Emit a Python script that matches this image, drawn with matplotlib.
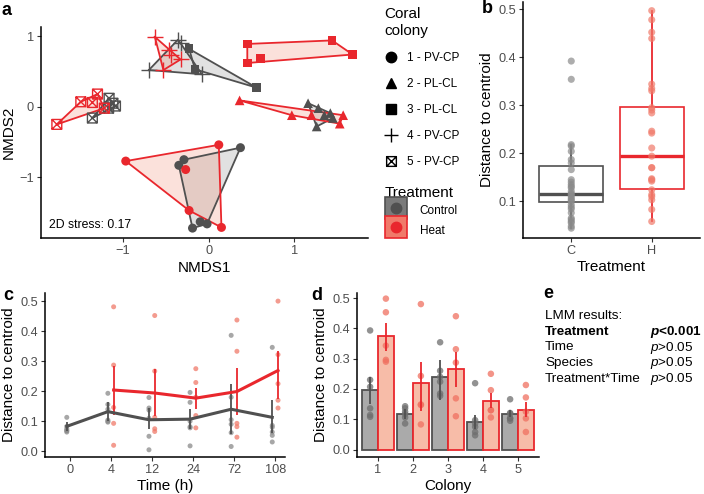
import numpy as np
import matplotlib
matplotlib.use("Agg")
import matplotlib.pyplot as plt
from matplotlib.path import Path
from matplotlib.lines import Line2D
from matplotlib.legend_handler import HandlerTuple

plt.rcParams["font.family"] = ["Liberation Sans", "DejaVu Sans"]
plt.rcParams["mathtext.fontset"] = "custom"
plt.rcParams["mathtext.rm"] = "Liberation Sans"
plt.rcParams["mathtext.it"] = "Liberation Sans:italic"
plt.rcParams["mathtext.bf"] = "Liberation Sans:italic:bold"

RED = "#E9272D"
DARK = "#505050"
HEAT_PT = "#F07A6A"
CTRL_PT = "#8A8A8A"
TITLE_FS = 11

# ---- panel a: NMDS coordinates, one list per colony (1..5)
colony_labels = ["1 - PV-CP", "2 - PL-CL", "3 - PL-CL", "4 - PV-CP", "5 - PV-CP"]
nmds_ctrl_x = [[0.37, -0.29, -0.35, -0.19, -0.10, -0.02],
               [1.16, 1.28, 1.42, 1.26, 1.45, 1.35],
               [-0.23, -0.16, 0.56],
               [-0.70, -0.36, -0.08, -0.33],
               [-1.165, -1.09, -1.36, -1.17, -1.12]]
nmds_ctrl_y = [[-0.58, -0.75, -0.83, -1.72, -1.63, -1.66],
               [0.05, -0.02, -0.09, -0.28, -0.16, -0.12],
               [0.82, 0.53, 0.27],
               [0.52, 0.95, 0.46, 0.90],
               [0.12, 0.01, -0.16, -0.02, 0.05]]
nmds_heat_x = [[-0.97, 0.117, -0.27, -0.23, 0.148],
               [0.36, 0.97, 1.57, 1.53, 1.20],
               [0.45, 0.45, 0.60, 1.44, 1.68],
               [-0.63, -0.53, -0.44, -0.33, -0.47],
               [-1.775, -1.495, -1.36, -1.30, -1.22]]
nmds_heat_y = [[-0.77, -0.54, -0.89, -1.47, -1.71],
               [0.09, -0.12, -0.12, -0.24, -0.12],
               [0.89, 0.62, 0.68, 0.94, 0.74],
               [0.99, 0.52, 0.73, 0.67, 0.80],
               [-0.25, 0.07, 0.06, 0.18, -0.02]]
stress = 0.17

# ---- panel b: distance to centroid by treatment
dist_ctrl = [0.392, 0.354, 0.218, 0.215, 0.204, 0.187, 0.180, 0.166, 0.145, 0.140,
             0.135, 0.131, 0.128, 0.121, 0.116, 0.114, 0.110, 0.106, 0.103, 0.100,
             0.093, 0.088, 0.084, 0.076, 0.065, 0.062, 0.058, 0.055, 0.048, 0.044]
dist_heat = [0.497, 0.478, 0.452, 0.439, 0.344, 0.335, 0.330, 0.295, 0.290, 0.284,
             0.246, 0.242, 0.211, 0.194, 0.170, 0.170, 0.147, 0.145, 0.142, 0.124,
             0.114, 0.110, 0.103, 0.083, 0.058]
box_q1 = [0.098, 0.126]
box_med = [0.116, 0.194]
box_q3 = [0.174, 0.297]
box_lo = [0.044, 0.058]
box_hi = [0.218, 0.497]
treat_ticks = ["C", "H"]

# ---- panel c: distance over time
times = ["0", "4", "12", "24", "72", "108"]
ctrl_t_mean = [0.083, 0.132, 0.105, 0.107, 0.140, 0.113]
ctrl_t_lo = [0.069, 0.102, 0.073, 0.075, 0.058, 0.060]
ctrl_t_hi = [0.097, 0.163, 0.144, 0.141, 0.223, 0.170]
heat_t_mean = [0.204, 0.194, 0.177, 0.199, 0.269]
heat_t_lo = [0.122, 0.119, 0.141, 0.122, 0.174]
heat_t_hi = [0.284, 0.273, 0.210, 0.276, 0.333]
ctrl_t_pts = [[0.113, 0.083, 0.075, 0.068, 0.064, 0.070],
              [0.193, 0.156, 0.104, 0.100, 0.097, 0.140],
              [0.179, 0.144, 0.137, 0.050, 0.005, 0.110],
              [0.196, 0.163, 0.082, 0.078, 0.018, 0.100],
              [0.386, 0.105, 0.090, 0.062, 0.016, 0.180],
              [0.346, 0.086, 0.064, 0.053, 0.031, 0.080]]
heat_t_pts = [[0.481, 0.287, 0.146, 0.093, 0.020],
              [0.452, 0.267, 0.113, 0.075, 0.066],
              [0.275, 0.229, 0.119, 0.078, 0.180],
              [0.437, 0.333, 0.093, 0.082, 0.047],
              [0.500, 0.322, 0.225, 0.170, 0.144]]

# ---- panel d: distance by colony
colonies = ["1", "2", "3", "4", "5"]
ctrl_c_mean = [0.196, 0.116, 0.238, 0.091, 0.119]
ctrl_c_lo = [0.152, 0.100, 0.163, 0.068, 0.108]
ctrl_c_hi = [0.238, 0.135, 0.296, 0.113, 0.132]
heat_c_mean = [0.376, 0.219, 0.266, 0.161, 0.132]
heat_c_lo = [0.326, 0.128, 0.207, 0.136, 0.108]
heat_c_hi = [0.417, 0.288, 0.323, 0.186, 0.157]
ctrl_c_pts = [[0.393, 0.230, 0.207, 0.136, 0.114, 0.108],
              [0.143, 0.136, 0.125, 0.117, 0.106, 0.086],
              [0.354, 0.185, 0.177, 0.260, 0.240, 0.224],
              [0.219, 0.097, 0.086, 0.075, 0.058, 0.047],
              [0.166, 0.121, 0.118, 0.103, 0.103, 0.095]]
heat_c_pts = [[0.498, 0.453, 0.343, 0.296, 0.290],
              [0.480, 0.243, 0.149, 0.147, 0.083],
              [0.440, 0.331, 0.287, 0.169, 0.110],
              [0.250, 0.196, 0.130, 0.130, 0.106],
              [0.213, 0.172, 0.125, 0.103, 0.058]]

# ---- panel e
lmm_terms = ["Treatment", "Time", "Species", "Treatment*Time"]
lmm_p = ["<0.001", ">0.05", ">0.05", ">0.05"]

W, H = 704, 494
fig = plt.figure(figsize=(W / 100, H / 100), dpi=100)


def px_axes(l, t, r, b):
    return fig.add_axes([l / W, 1 - b / H, (r - l) / W, (b - t) / H])


def style(ax):
    for s in ["top", "right"]:
        ax.spines[s].set_visible(False)
    for s in ["left", "bottom"]:
        ax.spines[s].set_linewidth(1.1)
    ax.tick_params(colors="#333333", labelcolor="#4D4D4D", labelsize=9.2,
                   length=3, width=0.8, pad=2)


def hull(xs, ys):
    pts = sorted(set(zip(xs, ys)))
    if len(pts) < 3:
        return pts

    def cross(o, a, b):
        return (a[0] - o[0]) * (b[1] - o[1]) - (a[1] - o[1]) * (b[0] - o[0])
    lower, upper = [], []
    for p in pts:
        while len(lower) >= 2 and cross(lower[-2], lower[-1], p) <= 0:
            lower.pop()
        lower.append(p)
    for p in reversed(pts):
        while len(upper) >= 2 and cross(upper[-2], upper[-1], p) <= 0:
            upper.pop()
        upper.append(p)
    return lower[:-1] + upper[:-1]


sq_cross = Path([(-1, -1), (1, -1), (1, 1), (-1, 1), (-1, -1),
                 (-1, -1), (1, 1), (-1, 1), (1, -1)],
                [Path.MOVETO, Path.LINETO, Path.LINETO, Path.LINETO, Path.CLOSEPOLY,
                 Path.MOVETO, Path.LINETO, Path.MOVETO, Path.LINETO])
markers = ["o", "^", "s", "+", sq_cross]
msizes = [42, 48, 40, 130, 50]

# ---------------- panel a
ax = px_axes(41, 27, 368, 238)
style(ax)
for xs_all, ys_all, col, fc, al in [(nmds_ctrl_x, nmds_ctrl_y, DARK, DARK, 0.17),
                                     (nmds_heat_x, nmds_heat_y, RED, "#F08A70", 0.25)]:
    for i in range(5):
        h = hull(xs_all[i], ys_all[i])
        hx = [p[0] for p in h]
        hy = [p[1] for p in h]
        ax.fill(hx, hy, facecolor=fc, alpha=al, edgecolor="none", zorder=1)
        ax.plot(hx + hx[:1], hy + hy[:1], color=col, lw=1.3, zorder=2)
for xs_all, ys_all, col in [(nmds_ctrl_x, nmds_ctrl_y, DARK), (nmds_heat_x, nmds_heat_y, RED)]:
    for i in range(5):
        if i == 3:
            ax.scatter(xs_all[i], ys_all[i], marker="+", s=msizes[i],
                       color=col, linewidths=1.0, zorder=3)
        elif i == 4:
            ax.scatter(xs_all[i], ys_all[i], marker=markers[i], s=msizes[i],
                       facecolors="none", edgecolors=col, linewidths=1.0, zorder=3)
        else:
            ax.scatter(xs_all[i], ys_all[i], marker=markers[i], s=msizes[i],
                       color=col, edgecolors="none", zorder=3)
ax.set_xlim(-1.96, 1.86)
ax.set_ylim(-1.86, 1.13)
ax.set_xticks([-1, 0, 1])
ax.set_xticklabels(["\u22121", "0", "1"])
ax.set_yticks([-1, 0, 1])
ax.set_yticklabels(["\u22121", "0", "1"])
ax.set_xlabel("NMDS1", fontsize=TITLE_FS, labelpad=3)
ax.set_ylabel("NMDS2", fontsize=TITLE_FS, labelpad=3)
ax.text(0.025, 0.06, "2D stress: %.2f" % stress, transform=ax.transAxes,
        fontsize=8.8, va="center", ha="left")

# legends for panel a
shape_handles = []
for i in range(5):
    if i >= 3:
        shape_handles.append(Line2D([], [], marker=markers[i], color="black",
                                    markerfacecolor="none", linestyle="none",
                                    markersize=10 if i == 3 else 7, markeredgewidth=1.0))
    else:
        shape_handles.append(Line2D([], [], marker=markers[i], color="black",
                                    linestyle="none", markersize=7.5))
leg1 = fig.legend(shape_handles, colony_labels, title="Coral\ncolony",
                  loc="upper left", bbox_to_anchor=(382 / W, 1 - 5 / H), frameon=False,
                  fontsize=8.5, title_fontsize=TITLE_FS, alignment="left",
                  handlelength=1.2, handletextpad=0.7, labelspacing=1.2,
                  borderaxespad=0, borderpad=0.2)
treat_handles = [(Line2D([], [], marker="s", markersize=16, markerfacecolor="#7A7A7A",
                         markeredgecolor=DARK, markeredgewidth=1.2, linestyle="none"),
                  Line2D([], [], marker="o", color=DARK, linestyle="none", markersize=7.5)),
                 (Line2D([], [], marker="s", markersize=16, markerfacecolor=HEAT_PT,
                         markeredgecolor=RED, markeredgewidth=1.2, linestyle="none"),
                  Line2D([], [], marker="o", color=RED, linestyle="none", markersize=7.5))]
leg2 = fig.legend(treat_handles, ["Control", "Heat"], title="Treatment",
                  loc="upper left", bbox_to_anchor=(382 / W, 1 - 184 / H), frameon=False,
                  fontsize=8.5, title_fontsize=TITLE_FS, alignment="left",
                  handlelength=1.9, handleheight=1.95, handletextpad=1.1, labelspacing=0.12,
                  borderaxespad=0, borderpad=0.2,
                  handler_map={tuple: HandlerTuple(ndivide=1)})

# ---------------- panel b
ax = px_axes(523, 2, 700, 238)
style(ax)
for i, (vals, col, pc) in enumerate([(dist_ctrl, DARK, CTRL_PT), (dist_heat, RED, HEAT_PT)]):
    stats = [{"med": box_med[i], "q1": box_q1[i], "q3": box_q3[i],
              "whislo": box_lo[i], "whishi": box_hi[i], "fliers": []}]
    ax.bxp(stats, positions=[i + 1], widths=0.8, showfliers=False, showcaps=False,
           patch_artist=True,
           boxprops=dict(facecolor="white", edgecolor=col, linewidth=1.2),
           whiskerprops=dict(color=col, linewidth=1.3),
           medianprops=dict(color=col, linewidth=2.4))
    ax.scatter([i + 1] * len(vals), vals, s=26, color=pc, alpha=0.7,
               edgecolors="none", zorder=4)
ax.set_xlim(0.4, 2.6)
ax.set_ylim(0.0236, 0.515)
ax.set_xticks([1, 2])
ax.set_xticklabels(treat_ticks)
ax.set_yticks([0.1, 0.2, 0.3, 0.4, 0.5])
ax.set_yticklabels(["0.1", "0.2", "0.3", "0.4", "0.5"])
ax.set_xlabel("Treatment", fontsize=TITLE_FS, labelpad=2)
ax.set_ylabel("Distance to centroid", fontsize=TITLE_FS, labelpad=3)

# ---------------- panel c
ax = px_axes(45, 293, 285, 457)
style(ax)
xi = np.arange(len(times))
dodge = 0.07
for k in range(len(times)):
    ax.scatter([xi[k] - dodge] * len(ctrl_t_pts[k]), ctrl_t_pts[k], s=13,
               color=CTRL_PT, alpha=0.75, edgecolors="none", zorder=2)
for k in range(len(heat_t_mean)):
    ax.scatter([xi[k + 1] + dodge] * len(heat_t_pts[k]), heat_t_pts[k], s=13,
               color=HEAT_PT, alpha=0.75, edgecolors="none", zorder=2)
ax.vlines(xi - dodge, ctrl_t_lo, ctrl_t_hi, color=DARK, lw=1.3, zorder=3)
ax.vlines(xi[1:] + dodge, heat_t_lo, heat_t_hi, color=RED, lw=1.3, zorder=3)
ax.plot(xi - dodge, ctrl_t_mean, color=DARK, lw=2.2, zorder=4)
ax.plot(xi[1:] + dodge, heat_t_mean, color=RED, lw=2.2, zorder=4)
ax.set_xlim(-0.6, 5.24)
ax.set_ylim(-0.019, 0.527)
ax.set_xticks(xi)
ax.set_xticklabels(times)
ax.set_yticks([0, 0.1, 0.2, 0.3, 0.4, 0.5])
ax.set_yticklabels(["0.0", "0.1", "0.2", "0.3", "0.4", "0.5"])
ax.set_xlabel("Time (h)", fontsize=TITLE_FS, labelpad=2)
ax.set_ylabel("Distance to centroid", fontsize=TITLE_FS, labelpad=3)

# ---------------- panel d
ax = px_axes(357, 293, 539, 457)
style(ax)
xc = np.arange(1, len(colonies) + 1)
bw = 0.45
ax.bar(xc - bw / 2, ctrl_c_mean, width=bw, color="#AAAAAA", edgecolor=DARK, lw=1.3, zorder=1)
ax.bar(xc + bw / 2, heat_c_mean, width=bw, color="#F7BCA8", edgecolor=RED, lw=1.3, zorder=1)
for k in range(len(colonies)):
    ax.scatter([xc[k] - bw / 2] * len(ctrl_c_pts[k]), ctrl_c_pts[k], s=22,
               color="#6E6E6E", alpha=0.75, edgecolors="none", zorder=2)
    ax.scatter([xc[k] + bw / 2] * len(heat_c_pts[k]), heat_c_pts[k], s=22,
               color="#F07060", alpha=0.75, edgecolors="none", zorder=2)
ax.vlines(xc - bw / 2, ctrl_c_lo, ctrl_c_hi, color=DARK, lw=1.3, zorder=3)
ax.vlines(xc + bw / 2, heat_c_lo, heat_c_hi, color=RED, lw=1.3, zorder=3)
ax.set_xlim(0.4, 5.6)
ax.set_ylim(-0.0245, 0.5166)
ax.set_xticks(xc)
ax.set_xticklabels(colonies)
ax.set_yticks([0, 0.1, 0.2, 0.3, 0.4, 0.5])
ax.set_yticklabels(["0.0", "0.1", "0.2", "0.3", "0.4", "0.5"])
ax.set_xlabel("Colony", fontsize=TITLE_FS, labelpad=2)
ax.set_ylabel("Distance to centroid", fontsize=TITLE_FS, labelpad=3)

# ---------------- panel e
fig.text(545 / W, 1 - 319 / H, "LMM results:", fontsize=9.7, va="baseline")
for j, (term, p) in enumerate(zip(lmm_terms, lmm_p)):
    yb = 1 - (335 + j * 15.5) / H
    if j == 0:
        fig.text(545 / W, yb, term, fontsize=9.7, va="baseline", weight="bold")
        fig.text(650 / W, yb, r"$\mathbf{p}$" + p, fontsize=9.7, va="baseline", weight="bold")
    else:
        fig.text(545 / W, yb, term, fontsize=9.7, va="baseline")
        fig.text(650 / W, yb, r"$\mathit{p}$" + p, fontsize=9.7, va="baseline")

# panel letters
for lab, x, y in [("a", 2, 15), ("b", 482, 13), ("c", 3, 300), ("d", 311, 300), ("e", 543, 298)]:
    fig.text(x / W, 1 - y / H, lab, fontsize=13, weight="bold", va="baseline")

fig.savefig("out.png", dpi=100)
